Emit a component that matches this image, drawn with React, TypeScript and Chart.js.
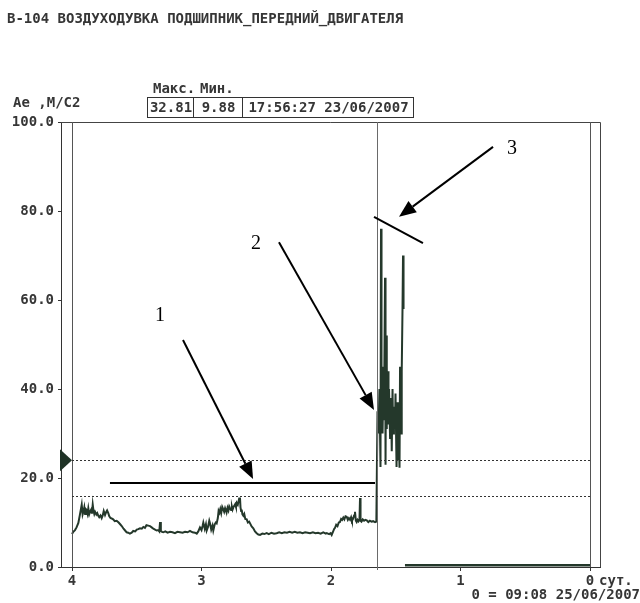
import React, { useEffect, useRef } from "react";
import { Chart, registerables } from "chart.js";

Chart.register(...registerables);

const TITLE = "В-104 ВОЗДУХОДУВКА ПОДШИПНИК_ПЕРЕДНИЙ_ДВИГАТЕЛЯ";
const Y_UNIT = "Ae ,M/C2";
const HEADER_LABELS = ["Макс.", "Мин."];
const HEADER_VALUES = ["32.81", "9.88", "17:56:27 23/06/2007"];
const X_TICKS = [0, 1, 2, 3, 4];
const X_UNIT = "сут.";
const X_ORIGIN = "0 = 09:08 25/06/2007";
const Y_MIN = 0;
const Y_MAX = 100;
const Y_STEP = 20;
const THRESHOLDS = [24, 16];
const CURSOR_DAY = 1.645;
const MARKER_VALUE = 24;

// Trend (days before origin, m/s2)
const trendDays = [
  4.0, 3.99, 3.977, 3.965, 3.951, 3.94, 3.925, 3.918, 3.912, 3.905, 3.899, 3.893, 3.887, 3.88, 3.874, 3.867,
  3.861, 3.852, 3.846, 3.84, 3.834, 3.828, 3.822, 3.812, 3.805, 3.797, 3.79, 3.78, 3.771, 3.763, 3.755, 3.745,
  3.737, 3.729, 3.72, 3.712, 3.703, 3.694, 3.682, 3.67, 3.655, 3.64, 3.628, 3.616, 3.602, 3.59, 3.578, 3.566,
  3.553, 3.539, 3.527, 3.512, 3.5, 3.488, 3.475, 3.461, 3.449, 3.437, 3.425, 3.411, 3.398, 3.385, 3.372, 3.359,
  3.346, 3.334, 3.326, 3.32, 3.314, 3.305, 3.295, 3.28, 3.262, 3.243, 3.224, 3.205, 3.186, 3.166, 3.146, 3.127,
  3.108, 3.089, 3.07, 3.05, 3.037, 3.025, 3.012, 3.0, 2.992, 2.986, 2.975, 2.966, 2.96, 2.95, 2.94, 2.934,
  2.925, 2.915, 2.909, 2.898, 2.89, 2.883, 2.874, 2.868, 2.862, 2.855, 2.848, 2.84, 2.831, 2.825, 2.818, 2.811,
  2.806, 2.799, 2.792, 2.786, 2.78, 2.772, 2.765, 2.76, 2.754, 2.746, 2.74, 2.734, 2.728, 2.72, 2.712, 2.706,
  2.703, 2.699, 2.694, 2.69, 2.684, 2.677, 2.67, 2.662, 2.651, 2.642, 2.632, 2.625, 2.613, 2.6, 2.587, 2.574,
  2.561, 2.548, 2.53, 2.515, 2.497, 2.48, 2.46, 2.44, 2.42, 2.4, 2.38, 2.36, 2.34, 2.32, 2.3, 2.28,
  2.26, 2.24, 2.22, 2.2, 2.18, 2.162, 2.14, 2.12, 2.1, 2.08, 2.06, 2.04, 2.033, 2.015, 2.003, 1.995,
  1.985, 1.975, 1.969, 1.96, 1.95, 1.94, 1.931, 1.922, 1.914, 1.905, 1.897, 1.888, 1.879, 1.87, 1.862, 1.853,
  1.845, 1.838, 1.83, 1.822, 1.815, 1.808, 1.802, 1.795, 1.788, 1.78, 1.776, 1.772, 1.765, 1.755, 1.745, 1.735,
  1.724, 1.712, 1.7, 1.688, 1.675, 1.66, 1.65,
  1.645, 1.641, 1.633, 1.626, 1.618, 1.614, 1.61, 1.606, 1.602, 1.595, 1.591, 1.583, 1.579, 1.575, 1.571, 1.568,
  1.564, 1.56, 1.556, 1.552, 1.544, 1.537, 1.531, 1.525, 1.521, 1.514, 1.506, 1.502, 1.494, 1.49, 1.483, 1.479,
  1.471, 1.467, 1.459, 1.454, 1.448, 1.444, 1.44,
];
const trendValues = [
  7.4, 7.9, 8.3, 8.9, 9.9, 11.6, 14.0, 11.8, 12.4, 13.4, 11.9, 13.0, 12.8, 12.0, 13.2, 11.9,
  12.4, 12.9, 12.0, 14.0, 12.6, 11.9, 12.4, 11.8, 12.1, 11.5, 11.2, 11.6, 11.0, 11.6, 12.6, 11.7,
  12.3, 12.7, 12.1, 11.4, 11.0, 10.9, 10.7, 10.3, 10.4, 10.0, 9.6, 9.2, 8.6, 8.2, 7.8, 7.7,
  7.5, 7.7, 8.1, 8.0, 8.4, 8.5, 8.7, 8.6, 9.0, 8.8, 9.4, 9.3, 9.2, 8.9, 8.6, 8.4,
  8.2, 8.3, 8.0, 10.1, 8.1, 7.9, 7.8, 8.0, 7.7, 7.9, 7.8, 7.6, 7.9, 7.8, 7.7, 7.9,
  7.8, 8.1, 7.8, 7.7, 7.5, 8.0, 8.9, 8.3, 9.2, 10.0, 8.6, 9.6, 8.2, 9.0, 10.4, 9.8,
  8.4, 9.3, 8.2, 9.6, 10.0, 9.8, 11.0, 12.6, 12.2, 13.0, 12.1, 13.5, 12.9, 12.4, 13.2, 12.6,
  12.3, 13.3, 12.7, 13.6, 13.2, 12.8, 13.5, 12.9, 13.4, 13.8, 14.1, 13.5, 14.4, 14.0, 15.0, 14.6,
  15.6, 13.4, 12.6, 12.9, 11.8, 11.5, 11.9, 10.8, 10.7, 10.0, 10.2, 9.8, 9.1, 8.7, 8.0, 7.6,
  7.3, 7.2, 7.5, 7.4, 7.6, 7.4, 7.7, 7.5, 7.6, 7.8, 7.6, 7.8, 7.7, 7.9, 7.7, 7.9,
  7.7, 7.8, 7.6, 7.8, 7.7, 7.6, 7.8, 7.6, 7.7, 7.5, 7.8, 7.5, 7.6, 7.4, 7.6, 7.2,
  7.9, 8.6, 8.8, 9.5, 9.2, 10.0, 10.1, 10.8, 10.6, 11.1, 10.7, 11.4, 11.3, 10.6, 11.0, 10.6,
  11.2, 10.4, 10.8, 11.6, 12.4, 10.4, 10.1, 10.6, 10.3, 10.8, 15.5, 10.4, 10.2, 10.7, 10.4, 10.6,
  10.5, 10.1, 10.4, 10.2, 10.3, 10.1, 10.2,
  10.2, 35, 30, 40, 22.5, 76, 34, 45, 30, 44, 33, 65, 23, 52, 31, 45,
  33, 44, 32, 40, 29, 38, 26, 40, 30, 36, 31, 39, 22.5, 37, 24, 32,
  22.3, 45, 30, 44, 58, 70, 58,
];
const zeroDays = [1.429, 0.0];
const zeroValues = [0.4, 0.4];

// Hand-drawn annotations (in chart units: days, m/s2)
const ANNOT_LABELS = ["1", "2", "3"];
const ANNOT_LABEL_AT = [
  [3.32, 56.4],
  [2.579, 72.6],
  [0.602, 93.9],
];
const ARROWS = [
  [3.143, 51.0, 2.602, 19.8],
  [2.402, 73.0, 1.668, 35.3],
  [0.749, 94.4, 1.475, 78.7],
];
const MARK_LINES = [
  [3.707, 18.9, 1.66, 18.9],
  [1.668, 78.7, 1.29, 72.8],
];

const MONO_FAMILY = "'DejaVu Sans Mono', monospace";
const MONO = "bold 14px " + MONO_FAMILY;
const INK = "#363636";
const TRACE = "#24382b";

export default function App() {
  const ref = useRef<HTMLCanvasElement | null>(null);

  useEffect(() => {
    document.body.style.margin = "0";
    const canvas = ref.current;
    if (!canvas) return;

    const overlay = {
      id: "overlay",
      beforeDraw(chart: any) {
        const c = chart.ctx;
        c.save();
        c.fillStyle = "#ffffff";
        c.fillRect(0, 0, chart.width, chart.height);
        c.restore();
      },
      afterDatasetsDraw(chart: any) {
        const c = chart.ctx;
        const xs = chart.scales.x;
        const ys = chart.scales.y;
        const a = chart.chartArea;
        const px = (d: number) => xs.getPixelForValue(d);
        const py = (v: number) => ys.getPixelForValue(v);
        c.save();
        // frame top and right
        c.strokeStyle = "#444";
        c.lineWidth = 1;
        c.beginPath();
        c.moveTo(a.left, a.top + 0.5);
        c.lineTo(a.right + 0.5, a.top + 0.5);
        c.lineTo(a.right + 0.5, a.bottom);
        c.stroke();
        // inner verticals at first/last tick
        c.strokeStyle = "#555";
        [X_TICKS[0], X_TICKS[X_TICKS.length - 1]].forEach((d) => {
          const x = Math.round(px(d)) + 0.5;
          c.beginPath();
          c.moveTo(x, a.top);
          c.lineTo(x, a.bottom);
          c.stroke();
        });
        // cursor
        c.strokeStyle = "#6a6a6a";
        const cx = Math.round(px(CURSOR_DAY)) + 0.5;
        c.beginPath();
        c.moveTo(cx, a.top);
        c.lineTo(cx, a.bottom + 3);
        c.stroke();
        // thresholds
        c.strokeStyle = "#333";
        c.setLineDash([2, 2]);
        THRESHOLDS.forEach((v) => {
          const y = Math.round(py(v)) + 0.5;
          c.beginPath();
          c.moveTo(px(4), y);
          c.lineTo(px(0), y);
          c.stroke();
        });
        c.setLineDash([]);
        // marker triangle
        const my = py(MARKER_VALUE);
        c.fillStyle = "#1f3326";
        c.beginPath();
        c.moveTo(a.left - 1, my - 11);
        c.lineTo(px(4), my);
        c.lineTo(a.left - 1, my + 11);
        c.closePath();
        c.fill();

        // annotations
        c.strokeStyle = "#000";
        c.fillStyle = "#000";
        c.lineWidth = 2;
        MARK_LINES.forEach(([d1, v1, d2, v2]) => {
          c.beginPath();
          c.moveTo(px(d1), py(v1));
          c.lineTo(px(d2), py(v2));
          c.stroke();
        });
        ARROWS.forEach(([d1, v1, d2, v2]) => {
          const x1 = px(d1), y1 = py(v1), x2 = px(d2), y2 = py(v2);
          const ang = Math.atan2(y2 - y1, x2 - x1);
          const L = 17, W = 7;
          const bx = x2 - L * Math.cos(ang), by = y2 - L * Math.sin(ang);
          c.beginPath();
          c.moveTo(x1, y1);
          c.lineTo(bx, by);
          c.stroke();
          c.beginPath();
          c.moveTo(x2, y2);
          c.lineTo(bx + W * Math.sin(ang), by - W * Math.cos(ang));
          c.lineTo(bx - W * Math.sin(ang), by + W * Math.cos(ang));
          c.closePath();
          c.fill();
        });
        c.font = "20px 'Liberation Serif', serif";
        c.textAlign = "center";
        c.textBaseline = "middle";
        ANNOT_LABELS.forEach((t, i) => {
          c.fillText(t, px(ANNOT_LABEL_AT[i][0]), py(ANNOT_LABEL_AT[i][1]));
        });

        // texts
        c.fillStyle = INK;
        c.font = MONO;
        c.textAlign = "left";
        c.textBaseline = "middle";
        c.fillText(TITLE, 7, 19);
        c.fillText(Y_UNIT, 13, 103);
        c.fillText(HEADER_LABELS[0], 153, 89);
        c.fillText(HEADER_LABELS[1], 200, 89);
        // header table
        const cells = [147, 193, 242, 413];
        c.strokeStyle = "#333";
        c.lineWidth = 1;
        c.strokeRect(147.5, 97.5, 413 - 147, 20);
        c.beginPath();
        c.moveTo(193.5, 97.5);
        c.lineTo(193.5, 117.5);
        c.moveTo(242.5, 97.5);
        c.lineTo(242.5, 117.5);
        c.stroke();
        c.textAlign = "center";
        HEADER_VALUES.forEach((t, i) => {
          c.fillText(t, (cells[i] + cells[i + 1]) / 2 + 1, 108);
        });
        // x unit + origin
        c.textAlign = "left";
        c.fillText(X_UNIT, px(0) + 9, a.bottom + 14);
        c.textAlign = "right";
        c.fillText(X_ORIGIN, 640, a.bottom + 28);
        c.restore();
      },
    };

    const chart = new Chart(canvas, {
      type: "line",
      data: {
        datasets: [
          {
            data: trendDays.map((d, i) => ({ x: d, y: trendValues[i] })),
            borderColor: TRACE,
            borderWidth: 2,
            pointRadius: 0,
            tension: 0,
          },
          {
            data: zeroDays.map((d, i) => ({ x: d, y: zeroValues[i] })),
            borderColor: TRACE,
            borderWidth: 2.5,
            pointRadius: 0,
          },
        ],
      },
      options: {
        animation: false,
        responsive: false,
        devicePixelRatio: 1,
        layout: { padding: { top: 122, right: 40, left: 0, bottom: 0 } },
        plugins: { legend: { display: false }, tooltip: { enabled: false } },
        scales: {
          x: {
            type: "linear",
            reverse: true,
            min: -0.077,
            max: 4.085,
            afterBuildTicks: (s: any) => {
              s.ticks = X_TICKS.map((v) => ({ value: v }));
            },
            afterFit: (s: any) => {
              s.height = 36;
            },
            ticks: {
              callback: (v: any) => String(v),
              color: INK,
              font: { family: MONO_FAMILY, size: 14, weight: "bold" },
              padding: 2,
              maxRotation: 0,
              autoSkip: false,
            },
            grid: { drawOnChartArea: false, drawTicks: true, tickLength: 4, color: "#333" },
            border: { display: true, color: "#333", width: 1 },
          },
          y: {
            min: Y_MIN,
            max: Y_MAX,
            afterFit: (s: any) => {
              s.width = 61;
            },
            ticks: {
              stepSize: Y_STEP,
              callback: (v: any) => Number(v).toFixed(1),
              color: INK,
              font: { family: MONO_FAMILY, size: 14, weight: "bold" },
              padding: 4,
            },
            grid: { drawOnChartArea: false, drawTicks: true, tickLength: 3, color: "#333" },
            border: { display: true, color: "#333", width: 1 },
          },
        },
      },
      plugins: [overlay],
    });
    return () => chart.destroy();
  }, []);

  return <canvas ref={ref} width={640} height={603} style={{ display: "block" }} />;
}
